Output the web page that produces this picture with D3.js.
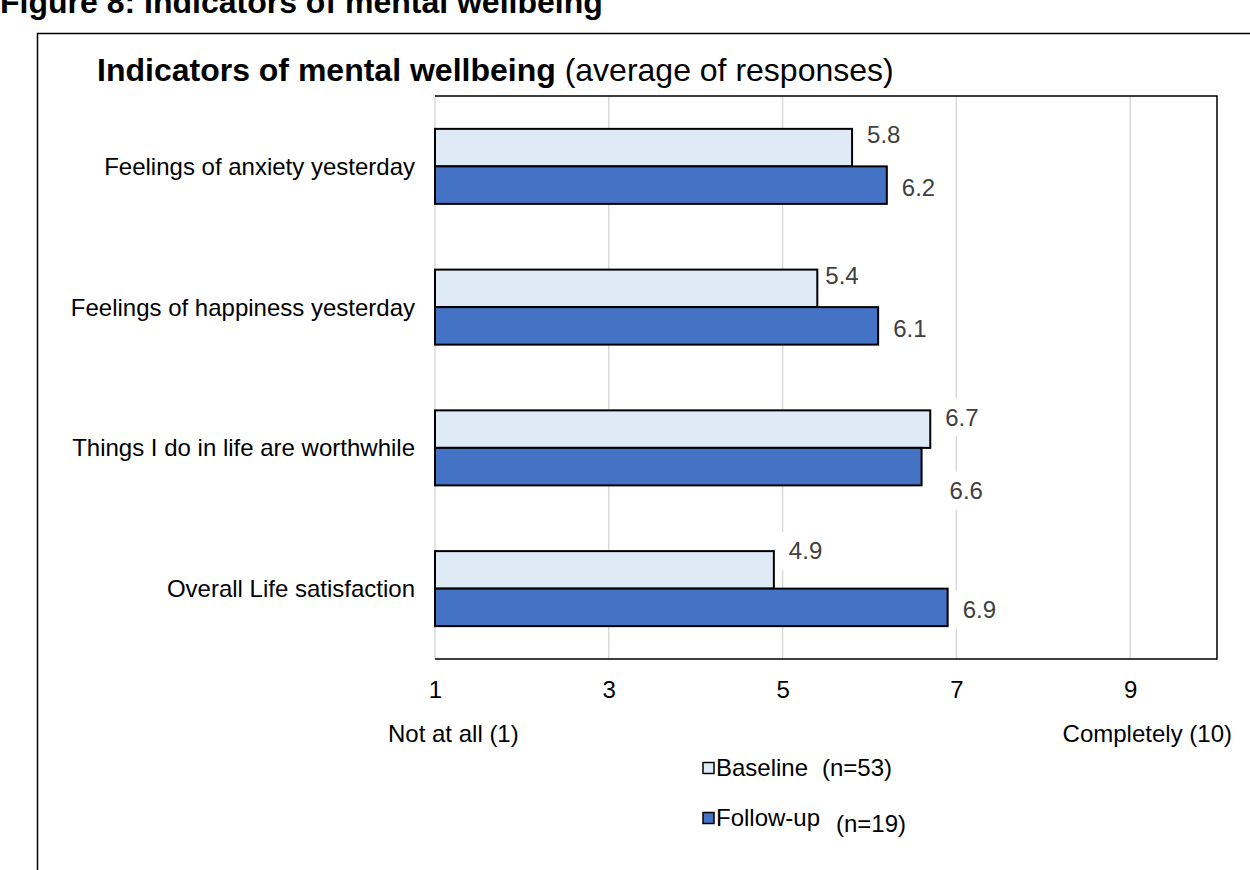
<!DOCTYPE html>
<html>
<head>
<meta charset="utf-8">
<script src="https://cdn.jsdelivr.net/npm/d3@7"></script>
<style>
  html, body { margin: 0; padding: 0; background: #fff; }
  svg { display: block; font-family: "Liberation Sans", Arial, sans-serif; }
</style>
</head>
<body>
<svg id="chart" width="1250" height="870"></svg>
<script>
// Survey items and average scores (scale 1 = not at all, 10 = completely)
const categories = [
  "Feelings of anxiety yesterday",
  "Feelings of happiness yesterday",
  "Things I do in life are worthwhile",
  "Overall Life satisfaction"
];
const seriesNames = ["Baseline", "Follow-up"];
const seriesCounts = ["(n=53)", "(n=19)"];
const baseline = [5.8, 5.4, 6.7, 4.9];
const followUp = [6.2, 6.1, 6.6, 6.9];
const xTicks = [1, 3, 5, 7, 9];
const scaleEnds = ["Not at all (1)", "Completely (10)"];

const colors = { Baseline: "#DEEBF7", "Follow-up": "#4472C4" };

// hand-placed label nudges [dx, dy] per category, per series
const labelNudge = [
  [[0, -13], [0, 2]],
  [[-7, -13], [0, 3]],
  [[0, -12], [13, 24]],
  [[0, -19], [0, 2]]
];

const FS = 24;
const svg = d3.select("#chart");

// Outer figure caption and frame
svg.append("text")
  .attr("x", 0).attr("y", 13)
  .attr("font-size", 32).attr("font-weight", "bold")
  .attr("fill", "#000")
  .text("Figure 8: Indicators of mental wellbeing");

svg.append("path")
  .attr("d", "M37.5,870 V33.5 H1250")
  .attr("fill", "none").attr("stroke", "#000").attr("stroke-width", 1.5);

// Chart title
const title = svg.append("text")
  .attr("x", 97).attr("y", 81)
  .attr("font-size", 32).attr("fill", "#000");
title.append("tspan").attr("font-weight", "bold").text("Indicators of mental wellbeing");
title.append("tspan").text(" (average of responses)");

const plot = { left: 435, right: 1217, top: 96, bottom: 659 };

const x = d3.scaleLinear().domain([1, 10]).range([plot.left, plot.right]);
const y = d3.scaleBand().domain(categories)
  .range([plot.top, plot.bottom])
  .paddingInner(0.467).paddingOuter(0.2335);
const ySeries = d3.scaleBand().domain(seriesNames).range([0, y.bandwidth()]);

// Vertical gridlines
svg.append("g").selectAll("line")
  .data(xTicks)
  .join("line")
  .attr("x1", d => x(d)).attr("x2", d => x(d))
  .attr("y1", plot.top).attr("y2", plot.bottom)
  .attr("stroke", "#D9D9D9").attr("stroke-width", 1.5);

const rows = categories.map((c, i) => ({
  category: c,
  values: [
    { series: "Baseline", value: baseline[i], nudge: labelNudge[i][0] },
    { series: "Follow-up", value: followUp[i], nudge: labelNudge[i][1] }
  ]
}));
const labelData = rows.flatMap(r => r.values.map(v => ({ ...v, category: r.category })));
const labelPos = d => [
  x(d.value) + 15 + d.nudge[0],
  y(d.category) + ySeries(d.series) + ySeries.bandwidth() / 2 + d.nudge[1]
];

// White backing behind value labels (hides gridlines)
svg.append("g").selectAll("rect")
  .data(labelData)
  .join("rect")
  .attr("x", d => labelPos(d)[0] - 8)
  .attr("y", d => labelPos(d)[1] - 19)
  .attr("width", 52).attr("height", 38)
  .attr("fill", "#fff");

// Plot-area border: top, right, bottom
svg.append("path")
  .attr("d", `M${plot.left},${plot.top} H${plot.right} V${plot.bottom} H${plot.left}`)
  .attr("fill", "none").attr("stroke", "#000").attr("stroke-width", 1.5);

// Bars
const groups = svg.append("g").selectAll("g")
  .data(rows)
  .join("g")
  .attr("transform", d => `translate(0,${y(d.category)})`);

groups.selectAll("rect")
  .data(d => d.values)
  .join("rect")
  .attr("x", x(1))
  .attr("y", d => ySeries(d.series))
  .attr("width", d => x(d.value) - x(1))
  .attr("height", ySeries.bandwidth())
  .attr("fill", d => colors[d.series])
  .attr("stroke", "#000").attr("stroke-width", 2);

// Value labels
svg.append("g").selectAll("text")
  .data(labelData)
  .join("text")
  .attr("x", d => labelPos(d)[0])
  .attr("y", d => labelPos(d)[1])
  .attr("dy", "0.35em")
  .attr("font-size", FS).attr("fill", "#404040")
  .text(d => d.value.toFixed(1));

// Category labels
svg.append("g").selectAll("text")
  .data(categories)
  .join("text")
  .attr("x", 415)
  .attr("y", d => y(d) + y.bandwidth() / 2)
  .attr("dy", "0.35em")
  .attr("text-anchor", "end")
  .attr("font-size", FS).attr("fill", "#000")
  .text(d => d);

// X axis tick labels
const xAxis = d3.axisBottom(x).tickValues(xTicks).tickSize(0).tickPadding(22).tickFormat(d3.format("d"));
const axisG = svg.append("g")
  .attr("transform", `translate(0,${plot.bottom})`)
  .call(xAxis);
axisG.select(".domain").remove();
axisG.selectAll("text")
  .attr("font-size", FS).attr("fill", "#000")
  .attr("font-family", "'Liberation Sans', Arial, sans-serif");

// Scale end descriptors
svg.append("text")
  .attr("x", 388).attr("y", 742)
  .attr("font-size", FS).attr("fill", "#000")
  .text(scaleEnds[0]);
svg.append("text")
  .attr("x", 1232).attr("y", 742)
  .attr("text-anchor", "end")
  .attr("font-size", FS).attr("fill", "#000")
  .text(scaleEnds[1]);

// Legend
const legendY = [768, 818];
const countX = [822, 836];
const countDy = [0, 6];
const legend = svg.append("g").selectAll("g")
  .data(seriesNames)
  .join("g")
  .attr("transform", (d, i) => `translate(703,${legendY[i]})`);

legend.append("rect")
  .attr("x", 0).attr("y", -5.5).attr("width", 11).attr("height", 11)
  .attr("fill", d => colors[d]).attr("stroke", "#000").attr("stroke-width", 1.5);
legend.append("text")
  .attr("x", 13).attr("dy", "0.35em")
  .attr("font-size", FS).attr("fill", "#000")
  .text(d => d);
legend.append("text")
  .attr("x", (d, i) => countX[i] - 703)
  .attr("y", (d, i) => countDy[i])
  .attr("dy", "0.35em")
  .attr("font-size", FS).attr("fill", "#000")
  .text((d, i) => seriesCounts[i]);
</script>
</body>
</html>
